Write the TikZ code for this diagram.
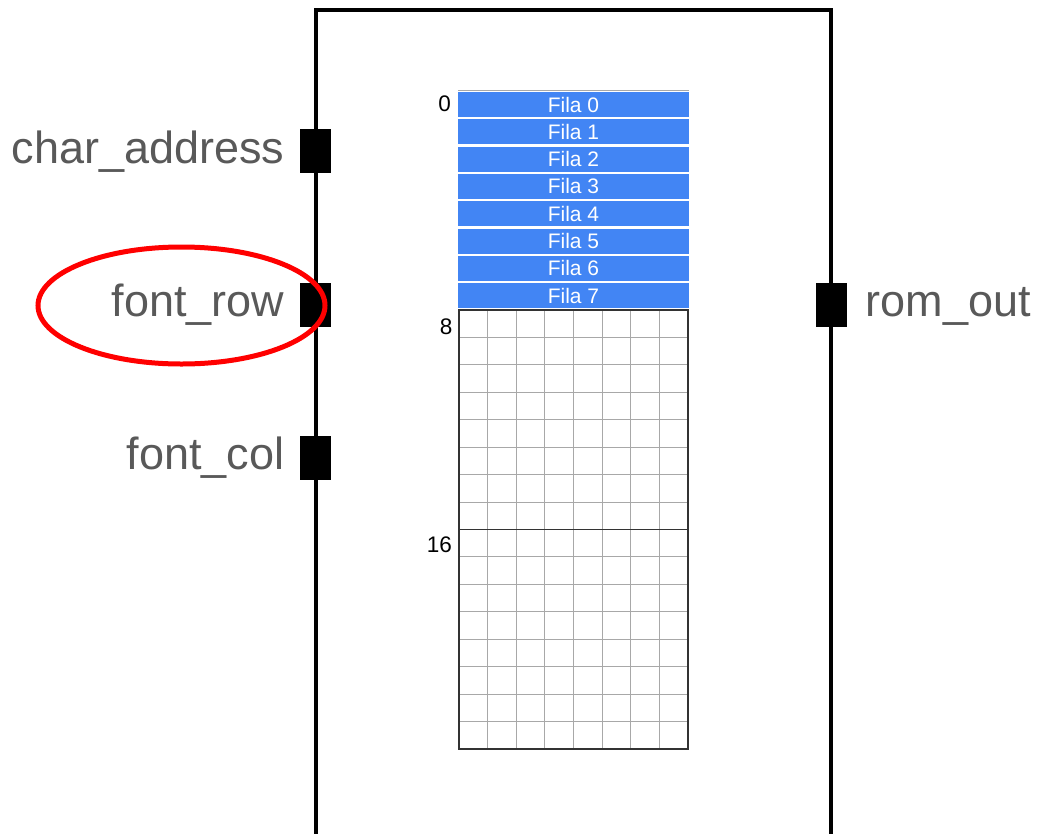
\documentclass[tikz,border=0pt]{standalone}
\usepackage{fontspec}
\setmainfont{Liberation Sans}
\usetikzlibrary{shapes.geometric}
\definecolor{filablue}{HTML}{4285F4}
\definecolor{labelgray}{HTML}{595959}
\definecolor{gridgray}{HTML}{A8A8A8}
\definecolor{borderdark}{HTML}{333333}
\tikzset{
  port/.style={draw=none, fill=black, minimum width=31pt, minimum height=44pt, inner sep=0pt},
  portlabel/.style={text=labelgray, inner sep=0pt, font=\fontsize{45}{54}\selectfont},
  filabox/.style={fill=filablue, text=white, minimum width=231pt, minimum height=25pt, inner sep=0pt, font=\fontsize{21}{25}\selectfont},
  idxlabel/.style={text=black, inner sep=0pt, anchor=east, font=\fontsize{22.5}{26}\selectfont},
  highlight/.style={draw=red, line width=5pt}
}
\begin{document}
\begin{tikzpicture}[x=1pt,y=-1pt]
\useasboundingbox (0,0) rectangle (1038,833);
% module outline
\coordinate (bl) at (316,835);
\coordinate (tl) at (316,10);
\coordinate (tr) at (831,10);
\coordinate (br) at (831,835);
\draw[line width=4pt] (bl) -- (tl) -- (tr) -- (br);
% ports
\node[port] (pca) at (315.5,151) {};
\node[port] (pfr) at (315.5,304.5) {};
\node[port] (pfc) at (315.5,458) {};
\node[port] (pro) at (831,304.5) {};
\node[portlabel, anchor=base east] (lca) at (284.5,163) {char\_address};
\node[portlabel, anchor=base east] (lfr) at (284.5,316) {font\_row};
\node[portlabel, anchor=base east] (lfc) at (284.5,469.5) {font\_col};
\node[portlabel, anchor=base west] (lro) at (865.5,316) {rom\_out};
% highlight ellipse
\node[highlight, ellipse, minimum width=287pt, minimum height=117pt, inner sep=0pt] (hl) at (181.5,305.5) {};
% top thin line
\draw[gridgray, line width=0.8pt] (458,90) -- (689,90);
% fila rows
\foreach \k in {0,...,7} {
  \node[filabox] (f\k) at (573.5,{104.5+27.3*\k}) {Fila \k};
}
% grid
\foreach \i in {1,...,15} {
  \draw[gridgray, line width=1pt] (459,{310+27.4375*\i}) -- (688,{310+27.4375*\i});
}
\foreach \j in {1,...,7} {
  \draw[gridgray, line width=1pt] ({459+28.625*\j},310) -- ({459+28.625*\j},749);
}
\draw[borderdark, line width=1.5pt] (459,529.5) -- (688,529.5);
\draw[borderdark, line width=1.5pt] (459,310) rectangle (688,749);
% index labels
\node[idxlabel] (i0) at (451,104) {0};
\node[idxlabel] (i8) at (452.5,326.5) {8};
\node[idxlabel] (i16) at (452,545) {16};
\end{tikzpicture}
\end{document}
